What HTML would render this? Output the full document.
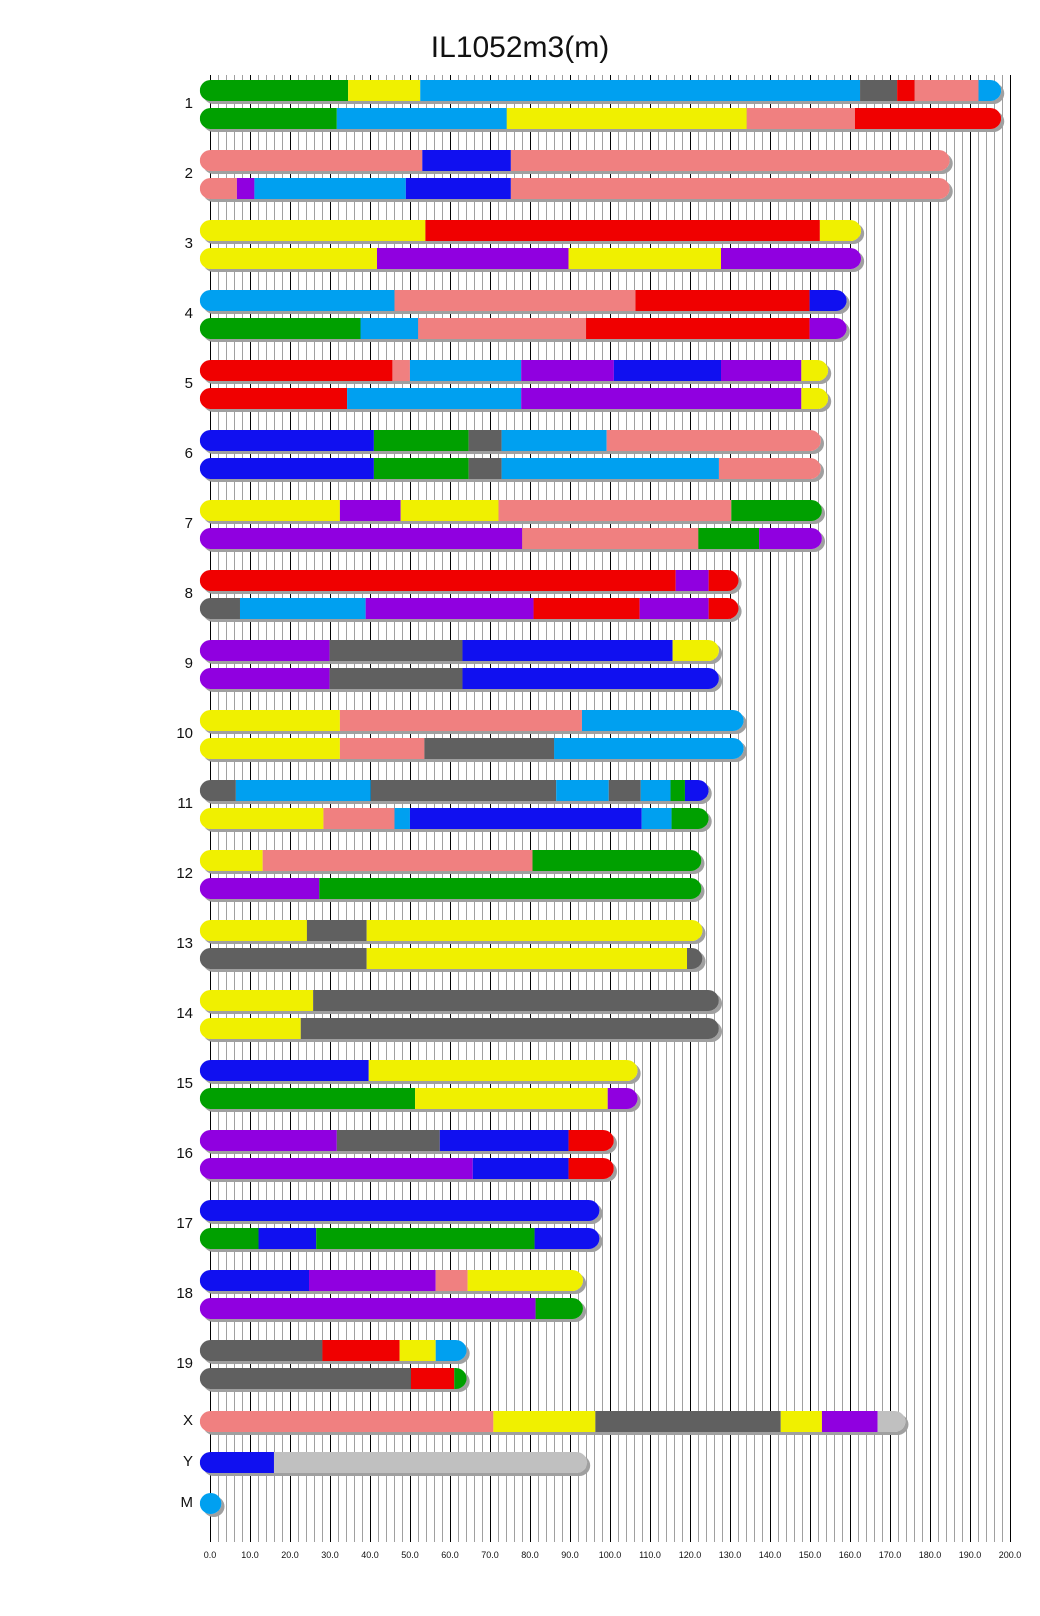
<!DOCTYPE html>
<html><head><meta charset="utf-8"><style>
body{margin:0;background:#fff;width:1040px;height:1616px;position:relative;overflow:hidden;font-family:"Liberation Sans",sans-serif}
.L{position:absolute;left:0;top:0;width:1040px;height:1616px;transform:scaleX(1.03);transform-origin:0 0}
.B{position:absolute;left:194px;height:21px;border-radius:10.5px;overflow:hidden;display:flex;box-shadow:3px 3px 0 #a0a0a0}
.B span{flex:none;height:21px}
.g{background:#00a000}.y{background:#f0f000}.c{background:#00a0f0}.k{background:#606060}.r{background:#f00000}.s{background:#f08080}.b{background:#1010f0}.p{background:#9000e0}.l{background:#c0c0c0}
.lab{position:absolute;font-size:15px;color:#111;text-align:right;width:40px;left:153px;line-height:16px}
</style></head><body>
<svg width="1040" height="1616" style="position:absolute;left:0;top:0" id="g">
<text x="520" y="57" font-size="30" text-anchor="middle" font-family="Liberation Sans" fill="#111">IL1052m3(m)</text>
</svg>
<div class="L">
<div class="B" style="top:80px"><span class="g" style="width:144px"></span><span class="y" style="width:70px"></span><span class="c" style="width:427px"></span><span class="k" style="width:36px"></span><span class="r" style="width:17px"></span><span class="s" style="width:62px"></span><span class="c" style="width:22px"></span></div>
<div class="B" style="top:108px"><span class="g" style="width:133px"></span><span class="c" style="width:165px"></span><span class="y" style="width:233px"></span><span class="s" style="width:105px"></span><span class="r" style="width:142px"></span></div>
<div class="B" style="top:150px"><span class="s" style="width:216px"></span><span class="b" style="width:86px"></span><span class="s" style="width:426px"></span></div>
<div class="B" style="top:178px"><span class="s" style="width:36px"></span><span class="p" style="width:17px"></span><span class="c" style="width:147px"></span><span class="b" style="width:102px"></span><span class="s" style="width:426px"></span></div>
<div class="B" style="top:220px"><span class="y" style="width:219px"></span><span class="r" style="width:383px"></span><span class="y" style="width:40px"></span></div>
<div class="B" style="top:248px"><span class="y" style="width:172px"></span><span class="p" style="width:186px"></span><span class="y" style="width:148px"></span><span class="p" style="width:136px"></span></div>
<div class="B" style="top:290px"><span class="c" style="width:189px"></span><span class="s" style="width:234px"></span><span class="r" style="width:169px"></span><span class="b" style="width:36px"></span></div>
<div class="B" style="top:318px"><span class="g" style="width:156px"></span><span class="c" style="width:56px"></span><span class="s" style="width:163px"></span><span class="r" style="width:217px"></span><span class="p" style="width:36px"></span></div>
<div class="B" style="top:360px"><span class="r" style="width:187px"></span><span class="s" style="width:17px"></span><span class="c" style="width:108px"></span><span class="p" style="width:90px"></span><span class="b" style="width:104px"></span><span class="p" style="width:78px"></span><span class="y" style="width:26px"></span></div>
<div class="B" style="top:388px"><span class="r" style="width:143px"></span><span class="c" style="width:169px"></span><span class="p" style="width:272px"></span><span class="y" style="width:26px"></span></div>
<div class="B" style="top:430px"><span class="b" style="width:169px"></span><span class="g" style="width:92px"></span><span class="k" style="width:32px"></span><span class="c" style="width:102px"></span><span class="s" style="width:208px"></span></div>
<div class="B" style="top:458px"><span class="b" style="width:169px"></span><span class="g" style="width:92px"></span><span class="k" style="width:32px"></span><span class="c" style="width:211px"></span><span class="s" style="width:99px"></span></div>
<div class="B" style="top:500px"><span class="y" style="width:136px"></span><span class="p" style="width:59px"></span><span class="y" style="width:95px"></span><span class="s" style="width:226px"></span><span class="g" style="width:88px"></span></div>
<div class="B" style="top:528px"><span class="p" style="width:313px"></span><span class="s" style="width:171px"></span><span class="g" style="width:59px"></span><span class="p" style="width:61px"></span></div>
<div class="B" style="top:570px"><span class="r" style="width:462px"></span><span class="p" style="width:32px"></span><span class="r" style="width:29px"></span></div>
<div class="B" style="top:598px"><span class="k" style="width:39px"></span><span class="c" style="width:122px"></span><span class="p" style="width:163px"></span><span class="r" style="width:103px"></span><span class="p" style="width:67px"></span><span class="r" style="width:29px"></span></div>
<div class="B" style="top:640px"><span class="p" style="width:126px"></span><span class="k" style="width:129px"></span><span class="b" style="width:204px"></span><span class="y" style="width:45px"></span></div>
<div class="B" style="top:668px"><span class="p" style="width:126px"></span><span class="k" style="width:129px"></span><span class="b" style="width:249px"></span></div>
<div class="B" style="top:710px"><span class="y" style="width:136px"></span><span class="s" style="width:235px"></span><span class="c" style="width:157px"></span></div>
<div class="B" style="top:738px"><span class="y" style="width:136px"></span><span class="s" style="width:82px"></span><span class="k" style="width:126px"></span><span class="c" style="width:184px"></span></div>
<div class="B" style="top:780px"><span class="k" style="width:35px"></span><span class="c" style="width:131px"></span><span class="k" style="width:180px"></span><span class="c" style="width:51px"></span><span class="k" style="width:31px"></span><span class="c" style="width:29px"></span><span class="g" style="width:14px"></span><span class="b" style="width:23px"></span></div>
<div class="B" style="top:808px"><span class="y" style="width:120px"></span><span class="s" style="width:69px"></span><span class="c" style="width:15px"></span><span class="b" style="width:225px"></span><span class="c" style="width:29px"></span><span class="g" style="width:36px"></span></div>
<div class="B" style="top:850px"><span class="y" style="width:61px"></span><span class="s" style="width:262px"></span><span class="g" style="width:164px"></span></div>
<div class="B" style="top:878px"><span class="p" style="width:116px"></span><span class="g" style="width:371px"></span></div>
<div class="B" style="top:920px"><span class="y" style="width:104px"></span><span class="k" style="width:58px"></span><span class="y" style="width:326px"></span></div>
<div class="B" style="top:948px"><span class="k" style="width:162px"></span><span class="y" style="width:311px"></span><span class="k" style="width:15px"></span></div>
<div class="B" style="top:990px"><span class="y" style="width:110px"></span><span class="k" style="width:394px"></span></div>
<div class="B" style="top:1018px"><span class="y" style="width:98px"></span><span class="k" style="width:406px"></span></div>
<div class="B" style="top:1060px"><span class="b" style="width:164px"></span><span class="y" style="width:261px"></span></div>
<div class="B" style="top:1088px"><span class="g" style="width:209px"></span><span class="y" style="width:187px"></span><span class="p" style="width:29px"></span></div>
<div class="B" style="top:1130px"><span class="p" style="width:133px"></span><span class="k" style="width:100px"></span><span class="b" style="width:125px"></span><span class="r" style="width:44px"></span></div>
<div class="B" style="top:1158px"><span class="p" style="width:265px"></span><span class="b" style="width:93px"></span><span class="r" style="width:44px"></span></div>
<div class="B" style="top:1200px"><span class="b" style="width:388px"></span></div>
<div class="B" style="top:1228px"><span class="g" style="width:57px"></span><span class="b" style="width:56px"></span><span class="g" style="width:212px"></span><span class="b" style="width:63px"></span></div>
<div class="B" style="top:1270px"><span class="b" style="width:106px"></span><span class="p" style="width:123px"></span><span class="s" style="width:31px"></span><span class="y" style="width:112px"></span></div>
<div class="B" style="top:1298px"><span class="p" style="width:326px"></span><span class="g" style="width:46px"></span></div>
<div class="B" style="top:1340px"><span class="k" style="width:119px"></span><span class="r" style="width:75px"></span><span class="y" style="width:35px"></span><span class="c" style="width:30px"></span></div>
<div class="B" style="top:1368px"><span class="k" style="width:205px"></span><span class="r" style="width:42px"></span><span class="g" style="width:12px"></span></div>
<div class="B" style="top:1411px"><span class="s" style="width:285px"></span><span class="y" style="width:99px"></span><span class="k" style="width:180px"></span><span class="y" style="width:40px"></span><span class="p" style="width:54px"></span><span class="l" style="width:27px"></span></div>
<div class="B" style="top:1452px"><span class="b" style="width:72px"></span><span class="l" style="width:304px"></span></div>
<div class="B" style="top:1493px"><span class="c" style="width:21px"></span></div>
</div>
<div class="lab" style="top:96px">1</div><div class="lab" style="top:166px">2</div><div class="lab" style="top:236px">3</div><div class="lab" style="top:306px">4</div><div class="lab" style="top:376px">5</div><div class="lab" style="top:446px">6</div><div class="lab" style="top:516px">7</div><div class="lab" style="top:586px">8</div><div class="lab" style="top:656px">9</div><div class="lab" style="top:726px">10</div><div class="lab" style="top:796px">11</div><div class="lab" style="top:866px">12</div><div class="lab" style="top:936px">13</div><div class="lab" style="top:1006px">14</div><div class="lab" style="top:1076px">15</div><div class="lab" style="top:1146px">16</div><div class="lab" style="top:1216px">17</div><div class="lab" style="top:1286px">18</div><div class="lab" style="top:1356px">19</div><div class="lab" style="top:1413px">X</div><div class="lab" style="top:1454px">Y</div><div class="lab" style="top:1495px">M</div>
<script>
var s=document.getElementById('g'),h='';
for(var k=0;k<=100;k++){var x=210+8*k+0.5;var bl=k%5==0;
h='<line x1="'+x+'" y1="75" x2="'+x+'" y2="1542" stroke="'+(bl?'#000':'#a0a0a0')+'" stroke-width="1"/>'+h;
if(bl)h+='<text x="'+(x-0.5)+'" y="1558" font-size="9" text-anchor="middle" font-family="Liberation Sans" fill="#111">'+(k*2).toFixed(1)+'</text>';}
s.innerHTML=h+s.innerHTML;
</script>
</body></html>
